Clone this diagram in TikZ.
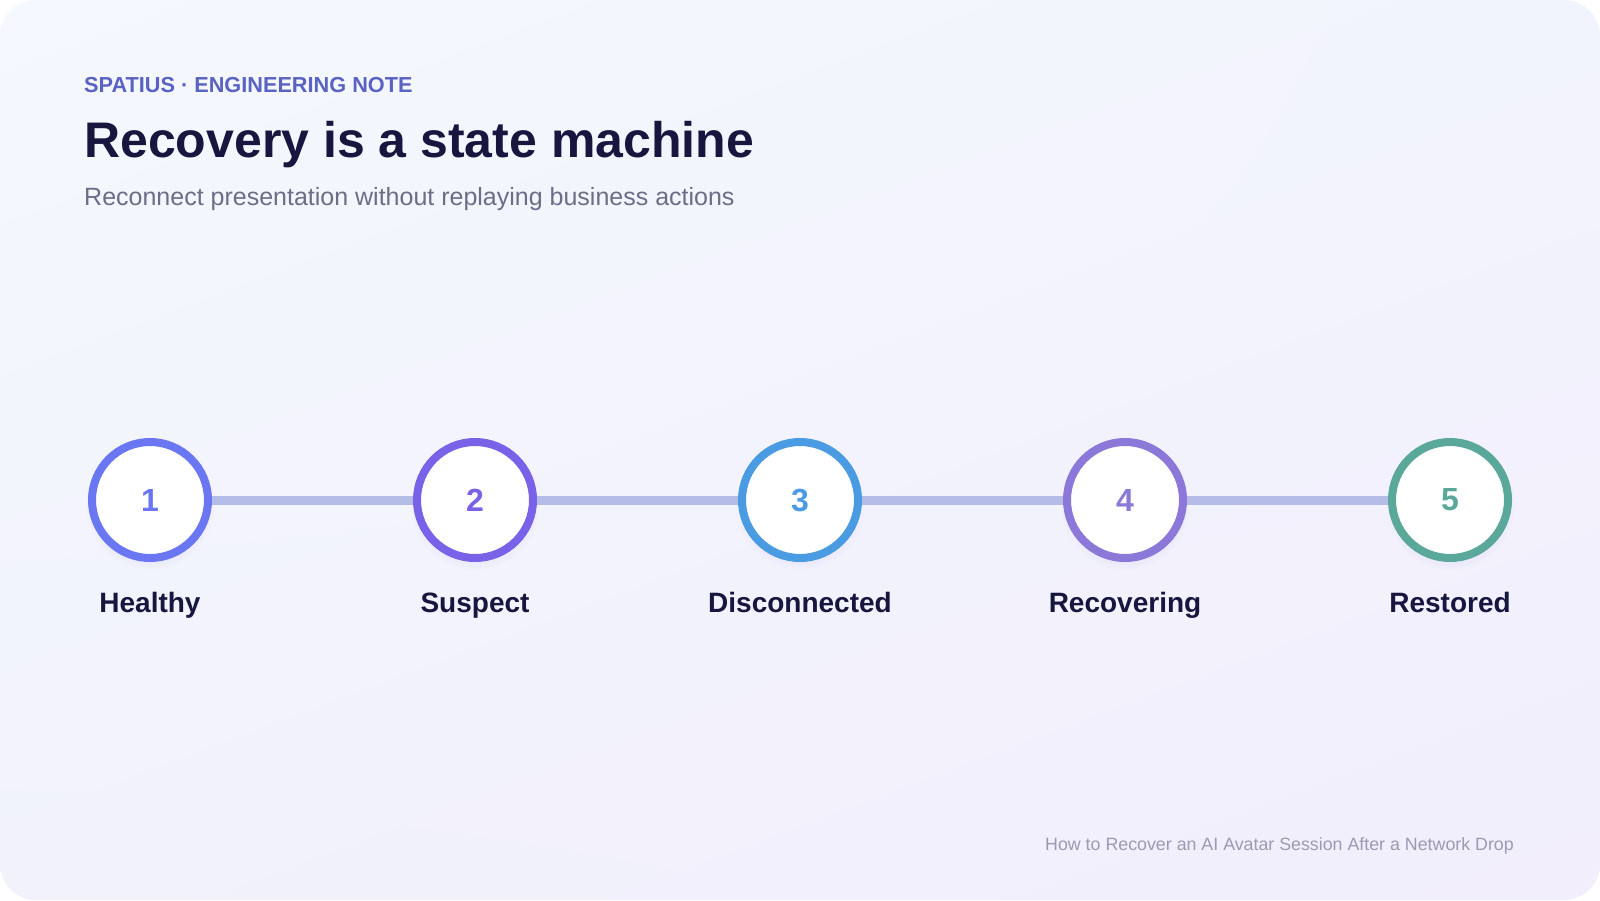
\documentclass[tikz,border=0pt]{standalone}
\usepackage{fontspec}
\setmainfont{Liberation Sans}
\usepackage{xcolor}
\usetikzlibrary{positioning, calc, shadows, shadings}

\definecolor{bgtl}{HTML}{F5F8FE}
\definecolor{bgtr}{HTML}{F2F4FD}
\definecolor{bgbl}{HTML}{F1F2FC}
\definecolor{bgbr}{HTML}{F2EEFC}
\definecolor{kicker}{HTML}{5A62C2}
\definecolor{ink}{HTML}{17163F}
\definecolor{subgray}{HTML}{6A6E86}
\definecolor{footgray}{HTML}{9B9AB2}
\definecolor{rail}{HTML}{B6BCE8}
\definecolor{ringA}{HTML}{6B77F2}
\definecolor{ringB}{HTML}{7A62E8}
\definecolor{ringC}{HTML}{4A9BE2}
\definecolor{ringD}{HTML}{8B78D8}
\definecolor{ringE}{HTML}{5AA89A}

\tikzset{
  state/.style={circle, draw=#1, line width=8pt, fill=white, text=#1,
    minimum size=116pt, inner sep=0pt,
    font=\bfseries\fontsize{32}{36}\selectfont,
    circular drop shadow={shadow xshift=0pt, shadow yshift=-5pt,
      shadow scale=1.12, fill=ringB, opacity=.06}},
  statename/.style={anchor=base, text=ink, font=\bfseries\fontsize{28}{32}\selectfont},
  link/.style={draw=rail, line width=9pt}
}

\begin{document}
\begin{tikzpicture}[x=1pt,y=-1pt]

% canvas size and row of states
\pgfmathsetmacro{\gap}{325}
\pgfmathsetmacro{\xo}{150}
\pgfmathsetmacro{\yrow}{500}
\pgfmathsetmacro{\ylab}{612}

\useasboundingbox (0,0) rectangle (1600,900);

% card background
\fill[white] (0,0) rectangle (1600,900);
\shade[rounded corners=36pt, upper left=bgtl, upper right=bgtr,
  lower left=bgbl, lower right=bgbr] (0,0) rectangle (1600,900);

% heading block
\node[anchor=base west, text=kicker, font=\bfseries\fontsize{21.7}{26}\selectfont, inner sep=0pt]
  (kick) at (84,92) {SPATIUS · ENGINEERING NOTE};
\node[anchor=base west, text=ink, font=\bfseries\fontsize{50}{60}\selectfont, inner sep=0pt]
  (title) at (84,157) {Recovery is a state machine};
\node[anchor=base west, text=subgray, font=\fontsize{25}{30}\selectfont, inner sep=0pt]
  (sub) at (84,205) {Reconnect presentation without replaying business actions};

% the states
\node[state=ringA] (s1) at (\xo,\yrow) {1};
\node[state=ringB] (s2) at (\xo+\gap,\yrow) {2};
\node[state=ringC] (s3) at (\xo+2*\gap,\yrow) {3};
\node[state=ringD] (s4) at (\xo+3*\gap,\yrow) {4};
\node[state=ringE] (s5) at (\xo+4*\gap,\yrow) {5};

% transitions
\draw[link] (s1) -- (s2);
\draw[link] (s2) -- (s3);
\draw[link] (s3) -- (s4);
\draw[link] (s4) -- (s5);

% state names
\node[statename] (l1) at (\xo,\ylab) {Healthy};
\node[statename] (l2) at (\xo+\gap,\ylab) {Suspect};
\node[statename] (l3) at (\xo+2*\gap,\ylab) {Disconnected};
\node[statename] (l4) at (\xo+3*\gap,\ylab) {Recovering};
\node[statename] (l5) at (\xo+4*\gap,\ylab) {Restored};

% footer
\node[anchor=base east, text=footgray, font=\fontsize{17.8}{22}\selectfont, inner sep=0pt]
  (foot) at (1514,850) {How to Recover an AI Avatar Session After a Network Drop};

\end{tikzpicture}
\end{document}
